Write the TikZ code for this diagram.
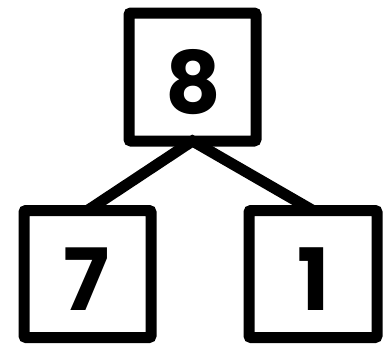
\documentclass[tikz,border=0pt]{standalone}
\usepackage{fontspec}
\setmainfont{Poppins}
\tikzset{
  numbox/.style={draw=black, line width=11pt, fill=white, rectangle, rounded corners=2pt,
    outer sep=0pt, inner sep=0pt},
  digit/.style={font=\fontsize{86}{86}\bfseries\selectfont, inner sep=0pt, text=black},
  conn/.style={line width=11pt, line join=miter, black}
}
\begin{document}
\begin{tikzpicture}[x=1pt,y=-1pt]
\useasboundingbox (0,0) rectangle (385,343);
\node[numbox, minimum width=127pt, minimum height=128pt] (t) at (192.5,77) {};
\node[numbox, minimum width=127pt, minimum height=127pt] (l) at (87.5,274) {};
\node[numbox, minimum width=128pt, minimum height=127pt] (r) at (313,274) {};
\draw[conn] (l.north) -- (t.south) -- (r.north);
\node[digit] (t8) at (193,82) {8};
\node[digit] (l7) at (87,279) {7};
\node[digit] (r1) at (314,279) {1};
\end{tikzpicture}
\end{document}
